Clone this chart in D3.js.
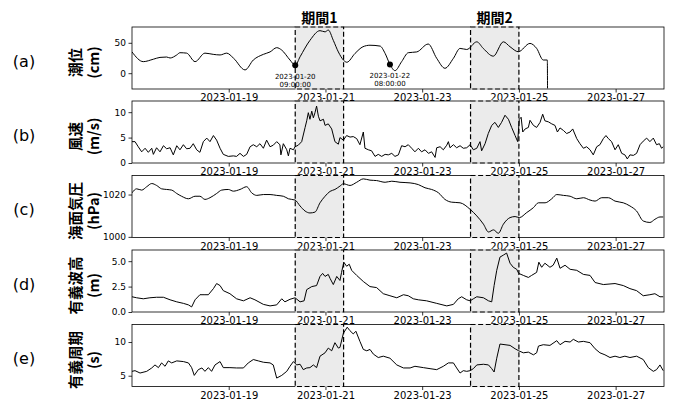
<!DOCTYPE html>
<html>
<head>
<meta charset="utf-8">
<script src="https://cdn.jsdelivr.net/npm/d3@7"></script>
<style>
  body { margin: 0; background: #fff; }
  svg { display: block; }
</style>
</head>
<body>
<svg id="chart" width="673" height="401"></svg>
<script>
// ---- data (hours since 2023-01-17 00:00) ----
const tideHours = [0,5.6,10.6,13.9,17.2,18.9,22.2,23.8,27.1,31.3,36.2,40.3,43.7,47,50.3,56.1,60.2,65.2,68.5,71.8,74.3,78.4,81,83.4,88.3,93.3,95.8,97.4,99.9,102.4,104.9,106.6,110.7,114.6,118.1,123.1,125.6,128,130.5,133.8,137.1,141.3,147,151.2,155.3,159.5,162.8,166.1,171.1,174.3,179.3,184.3,187.6,191.7,197.5,200.8,204.1,206.1,206.2];
const tideValues = [35,19,23,26,26.6,25,30,33.7,33,19,33,31,30,33,25,5.4,21.7,31,35,42,38,21.7,13,27,54,70,68,71,54,35,21.7,18,32.6,43.5,46,44.6,32.6,14.5,4.2,19,33.7,35,48,24.5,8.1,24.5,40.8,39,51.6,40.8,28,51.6,43.5,35.3,49,40.8,21.7,21.7,-25];

const windHours = [0,1.5,3.1,4.8,6.5,8.1,9.8,10.6,12.2,13.9,15.6,17.2,18.9,20.5,22.2,23.8,25.5,27.1,28.8,30.4,32.1,33.7,35.4,37.1,38.7,40.4,42,43.7,45.3,47.8,50.3,51.9,53.6,55.3,56.9,58.6,60.2,61.9,63.5,65.2,66.8,68.5,70.1,71.8,73.4,73.9,75.1,76.8,77.6,78.4,80.1,80.9,82.5,84.2,85.9,86.7,87.5,88.3,89.2,90,90.8,91.6,92.5,93.3,95,95.8,97.4,99.1,100.7,102.4,103.2,104.9,106.5,108.2,109.8,111.5,113.1,114.8,115.6,117.3,118.9,120.6,122.2,123.9,125.6,127.2,128.9,130.5,132.2,133.8,135.5,137.1,138.8,140.4,142.1,143.7,145.4,147.1,148.7,150.4,151.2,152.9,154.5,156.2,157,157.8,159.5,161.1,162.8,164.4,166.1,167.8,169.4,171.1,172.7,173.5,175.2,176.8,178.5,180.1,181.8,183.4,185.1,186.8,188.4,190.1,191.4,192.2,193.1,193.9,195.1,196.7,197.5,199.2,200.8,202.5,203.8,204.9,206.6,208.3,209.9,211.1,212.4,214.1,215.7,217.4,218.7,220.7,222.3,224,225.6,227.3,228.9,230.6,232.2,233.9,235.2,236.4,238,239.7,241.3,243,244.6,245.8,247.1,248.8,250.4,252.1,253.7,255.4,257,258.7,260.3,261.7,262.8,263.6];
const windValues = [4.2,4.2,3.2,2.2,2.9,2.1,2.9,1.7,3.0,2.2,3.4,2.8,3.0,1.6,3.4,2.6,3.6,2.8,2.9,3.8,2.6,2.1,4.2,4.9,4.2,5.4,4.5,2.9,1.7,1.3,1.4,1.3,1.9,1.3,1.7,3.2,3.6,3.2,3.8,2.9,4.5,3.2,3.5,4.2,3.6,1.6,3.8,2.6,1.4,2.9,2.6,3.2,3.5,4.2,7.0,8.3,9.9,8.6,10.2,8.9,9.9,11.2,9.2,8.3,8.6,7.4,7.7,6.7,4.2,3.7,5.0,4.5,5.4,5.1,5.2,4.8,3.6,6.1,2.9,2.6,2.4,1.3,1.7,1.3,1.7,1.6,1.9,1.3,1.6,3.4,3.2,3.6,2.9,2.2,2.9,2.2,2.6,1.9,2.2,1.1,3.0,3.2,2.6,3.5,4.2,3.0,3.6,3.0,3.4,2.9,3.0,3.6,2.6,2.9,4.2,2.4,3.8,5.8,7.4,8.0,7.0,8.0,9.4,8.6,7.0,5.4,4.2,8.6,9.0,6.1,6.7,7.0,8.4,7.4,7.0,8.0,9.6,8.3,8.1,7.7,7.4,6.1,6.9,6.4,5.8,6.1,6.7,4.8,3.8,2.9,3.2,2.6,1.6,3.2,3.6,4.8,5.4,4.8,4.2,2.6,3.6,1.9,1.6,0.8,1.6,1.5,1.9,3.6,4.3,4.9,4.2,4.9,3.6,3.8,2.9,3.2];

const pressureHours = [0,2.3,4.8,7.3,9.8,12.2,14.7,17.2,19.7,22.2,24.6,28,31.3,33.7,36.2,38.7,42,44.5,47.8,50.3,53.6,56.9,59.4,61.9,65.2,68.5,71.8,75.1,77.6,80.9,83.4,85.9,88.3,90.8,93.3,95.8,98.3,100.7,103.2,104.9,108.2,111.5,114.8,118.1,121.4,125.6,128.9,133,138,142.1,145.4,148.7,152.1,155.3,158.6,162.8,167.8,171.1,174.4,176.9,179.4,181.8,184.3,187.6,190.1,192.2,195.9,199.2,201.7,205,208.3,210.8,214.1,217.4,220.7,224,227.3,229.8,233.1,236.4,239.7,243.8,247.1,250.4,253.7,257,259.5,262,263.6];
const pressureValues = [1020.8,1022.7,1022.1,1023.7,1025.2,1024.3,1022.7,1022.4,1022.1,1020.5,1019.2,1018,1019.2,1019.2,1017.7,1018.5,1020.5,1022.1,1022.4,1021.6,1022.4,1023.7,1020.8,1019.6,1020,1020,1019.6,1019.2,1018,1017.4,1014.6,1012.2,1011.3,1011.7,1016.1,1019.2,1021.5,1022.4,1024,1025.1,1024.3,1025.8,1027.4,1026.8,1026.6,1025.8,1026.3,1025.8,1025.5,1024.7,1023.2,1022.4,1020.8,1017.7,1016.4,1016.1,1013,1009.9,1006,1002.3,1003.3,1001.7,1006,1009.1,1009.6,1009.1,1011.5,1013.8,1016.1,1016.1,1018,1020,1019.6,1019.2,1018,1018.5,1017.4,1016.9,1018.5,1018.5,1016.9,1016.1,1014.6,1012.2,1007.5,1006.8,1008.3,1009.4,1009.4];

const waveHeightHours = [0,2.3,5.6,8.9,12.2,15.6,18.9,22.2,25.5,28,29.6,31.3,33.7,36.2,37.9,40.4,42,43.7,45.3,48.6,51.9,55.3,58.6,61,65.2,68.5,71.8,74.3,75.9,78.4,80.9,83.4,85.4,86.7,89.2,91.6,93.3,94.6,95.8,97.4,98.3,99.9,101.6,103.2,104,105.1,106.5,107.8,109,111.5,114.8,118.1,121.4,124.7,128,131.4,134.7,137.1,139.6,142.1,146.2,151.2,156.2,159.5,161.9,163.6,166.1,167.8,169.4,171.1,174.4,176.9,178.5,179.7,181,182.6,184.3,185.9,187.6,189.2,190.9,191.9,194.2,196.7,198.3,200.8,201.9,203.3,204.9,207.4,209,210.8,212.4,214.9,217.4,220.7,224,227.3,229.8,233.9,239.7,243.8,247.1,250.4,253.7,257,259.5,262,263.6];
const waveHeightValues = [1.5,1.4,1.3,1.4,1.45,1.45,1.2,1.0,0.85,0.7,0.5,1.2,1.7,1.7,1.7,2.3,2.8,2.6,2.1,1.8,1.3,1.1,1.4,1.2,0.75,0.6,0.7,1.3,1.0,1.25,1.4,1.0,1.1,2.2,2.5,2.6,3.5,3.8,3.5,3.7,3.3,2.7,3.5,3.1,3.9,4.9,4.5,4.7,4.1,3.6,3.0,2.5,2.4,1.8,1.6,1.4,1.7,1.6,1.3,1.2,1.1,0.85,0.6,0.75,1.3,1.5,1.2,1.1,1.3,1.5,1.4,1.1,1.0,2.6,4.1,5.4,5.6,5.8,4.8,4.4,4.2,3.8,3.6,3.4,3.6,3.9,4.9,4.4,4.8,4.4,4.6,5.3,4.3,4.6,4.2,4.1,3.7,3.6,2.9,2.7,2.8,2.6,2.3,2.1,1.6,1.7,1.8,1.5,1.5];

const wavePeriodHours = [0,1.5,4,7.3,9.8,11.4,13.1,14.7,16.4,18,19.7,22.2,25.5,28,29.6,30.9,32.9,34.7,36.2,37.9,39.5,41.2,43.7,45.3,48.6,51.9,55.3,57.7,60.2,62.7,65.2,68.5,70.1,71.8,74.3,76.8,78.4,80.1,81.7,83.4,85,86.7,88.3,90,91.6,93.3,95.8,97.4,99.1,100.7,102.4,103.2,104.9,106.8,108.1,109.8,111.1,113.1,114.8,116.5,118.1,119.8,122.2,124.7,128,131.4,134.7,138,140.4,144.6,147.9,151.2,154.5,157,159.5,161.1,162.8,164.4,166.1,167.8,169.4,171.1,174.4,176.9,178.5,179.7,181,182.6,185.1,187.6,190.1,191.9,194.2,196.7,199.2,200.8,201.7,204.1,207.4,210.8,212.4,214.9,217.4,219,221.5,224,227.3,229.8,232.2,234.7,237.2,239.7,242.1,244.6,247.1,250.4,253.7,256.2,258.7,260.3,262,263.6];
const wavePeriodValues = [5.65,5.75,5.4,5.65,6.15,6.6,6.2,6.9,6.4,7.2,6.9,7.2,7.1,6.9,6.2,5.05,5.9,6.15,5.65,6.2,5.65,6.6,7.1,6.2,6.2,6.15,6.15,6.9,7.4,7.2,7.0,6.9,6.6,4.65,5.05,5.65,6.4,7.1,6.6,6.7,5.9,6.15,6.2,6.6,6.2,7.9,8.4,9.1,8.7,9.9,9.1,9.2,11.3,12.2,11.7,11.2,11.6,10.1,8.9,8.7,8.9,8.2,7.7,7.9,7.6,6.6,6.15,6.15,6.4,6.2,6.05,5.9,6.4,6.9,6.9,6.15,5.4,5.75,5.65,5.75,6.05,6.6,6.7,6.6,6.05,5.55,7.6,9.7,9.6,9.5,9.0,8.7,8.4,8.5,8.1,8.4,9.4,9.6,9.5,10.2,9.6,10.1,10.0,10.4,10.0,10.1,9.9,9.0,8.4,8.1,7.7,7.9,7.7,7.9,7.7,7.9,7.4,6.2,5.65,5.9,6.6,5.75];

const xTickLabels = ["2023-01-19", "2023-01-21", "2023-01-23", "2023-01-25", "2023-01-27"];
const periodLabels = ["期間1", "期間2"];
const periodStarts = ["2023-01-20 09:00", "2023-01-24 00:00"];
const periodEnds = ["2023-01-21 09:00", "2023-01-25 00:00"];
const markerTimes = ["2023-01-20 09:00:00", "2023-01-22 08:00:00"];

const panelTags = ["(a)", "(b)", "(c)", "(d)", "(e)"];
const panelTitles = [["潮位", "(cm)"], ["風速", "(m/s)"], ["海面気圧", "(hPa)"], ["有義波高", "(m)"], ["有義周期", "(s)"]];
const yTicks = [[0, 50], [0, 5, 10], [1000, 1020], [0, 2.5, 5], [5, 10]];

// ---- layout ----
const svg = d3.select("#chart");
const left = 132, right = 664;
const tops = [27, 101, 175.5, 250, 324.5];
const ph = 62;
const shade = "#ebebeb";
const tickFont = "'DejaVu Sans', sans-serif";
const cjkFont = "'Noto Sans CJK JP', 'Noto Sans', sans-serif";

const t0 = Date.UTC(2023, 0, 17);
const fromHours = h => new Date(t0 + h * 3600000);
const parseMin = d3.utcParse("%Y-%m-%d %H:%M");
const parseSec = d3.utcParse("%Y-%m-%d %H:%M:%S");
const parseDay = d3.utcParse("%Y-%m-%d");

const x = d3.scaleUtc().domain([fromHours(0), fromHours(264)]).range([left, right]);

const panels = [
  { hours: tideHours, values: tideValues, domain: [-26, 76], fmt: d3.format("d"), curve: d3.curveMonotoneX },
  { hours: windHours, values: windValues, domain: [0, 12.2], fmt: d3.format("d"), curve: d3.curveLinear },
  { hours: pressureHours, values: pressureValues, domain: [999.7, 1029], fmt: d3.format("d"), curve: d3.curveMonotoneX },
  { hours: waveHeightHours, values: waveHeightValues, domain: [0, 6.1], fmt: d3.format(".1f"), curve: d3.curveLinear },
  { hours: wavePeriodHours, values: wavePeriodValues, domain: [3.4, 12.6], fmt: d3.format("d"), curve: d3.curveLinear }
];

const xTicks = xTickLabels.map(parseDay);

panels.forEach((p, i) => {
  const top = tops[i], bottom = top + ph;
  const y = d3.scaleLinear().domain(p.domain).range([bottom, top]);
  const g = svg.append("g");

  // shaded periods
  periodStarts.forEach((s, k) => {
    const x0 = x(parseMin(s)), x1 = x(parseMin(periodEnds[k]));
    g.append("rect").attr("x", x0).attr("y", top).attr("width", x1 - x0).attr("height", ph)
      .attr("fill", shade);
  });

  // axes frame
  g.append("rect").attr("x", left).attr("y", top).attr("width", right - left).attr("height", ph)
    .attr("fill", "none").attr("stroke", "#000").attr("stroke-width", 0.8);

  // dashed outline of each period
  periodStarts.forEach((s, k) => {
    const x0 = x(parseMin(s)), x1 = x(parseMin(periodEnds[k]));
    [top, bottom].forEach(yy => {
      g.append("line").attr("x1", x0).attr("x2", x1).attr("y1", yy).attr("y2", yy)
        .attr("stroke", shade).attr("stroke-width", 1.4);
    });
    g.append("rect").attr("x", x0).attr("y", top).attr("width", x1 - x0).attr("height", ph)
      .attr("fill", "none").attr("stroke", "#000").attr("stroke-width", 1.2)
      .attr("stroke-dasharray", "5,2.6");
  });

  // series line
  const clipId = "clip" + i;
  svg.append("clipPath").attr("id", clipId).append("rect")
    .attr("x", left).attr("y", top - 1).attr("width", right - left).attr("height", ph + 2);
  const pts = p.hours.map((h, j) => [fromHours(h), p.values[j]]);
  g.append("path").datum(pts)
    .attr("clip-path", `url(#${clipId})`)
    .attr("fill", "none").attr("stroke", "#000").attr("stroke-width", 1)
    .attr("stroke-linejoin", "round")
    .attr("d", d3.line().x(d => x(d[0])).y(d => y(d[1])).curve(p.curve));

  // x axis
  const ax = g.append("g").attr("transform", `translate(0,${bottom})`)
    .call(d3.axisBottom(x).tickValues(xTicks).tickFormat(d3.utcFormat("%Y-%m-%d"))
      .tickSizeOuter(0).tickSize(3.5).tickPadding(1.5));
  ax.select(".domain").remove();
  ax.selectAll("line").attr("stroke", "#000").attr("stroke-width", 0.8);
  ax.selectAll("text").attr("font-family", tickFont).attr("font-size", 10).attr("fill", "#000");

  // y axis
  const ay = g.append("g").attr("transform", `translate(${left},0)`)
    .call(d3.axisLeft(y).tickValues(yTicks[i]).tickFormat(p.fmt).tickSize(3.5).tickPadding(2.5));
  ay.select(".domain").remove();
  ay.selectAll("line").attr("stroke", "#000").attr("stroke-width", 0.8);
  ay.selectAll("text").attr("font-family", tickFont).attr("font-size", 9).attr("fill", "#000");

  // panel tag and y label
  svg.append("text").attr("x", 24).attr("y", top + 34)
    .attr("text-anchor", "middle").attr("dominant-baseline", "central")
    .attr("font-family", tickFont).attr("font-size", 16).attr("fill", "#000")
    .text(panelTags[i]);
  const cy = top + 35.5;
  [74.5, 92].forEach((lx, k) => {
    svg.append("text").attr("transform", `translate(${lx},${cy}) rotate(-90)`)
      .attr("text-anchor", "middle").attr("dominant-baseline", "central")
      .attr("font-family", cjkFont).attr("font-weight", 700).attr("font-size", 14.5).attr("fill", "#000")
      .text(panelTitles[i][k]);
  });

  // marked tide times
  if (i === 0) {
    markerTimes.forEach(mt => {
      const d = parseSec(mt);
      const h = (d - t0) / 3600000;
      const v = d3.scaleLinear().domain(p.hours).range(p.values)(h);
      const cx = x(d), cyDot = y(v);
      g.append("circle").attr("cx", cx).attr("cy", cyDot).attr("r", 3).attr("fill", "#000");
      const parts = mt.split(" ");
      parts.forEach((s, k) => {
        g.append("text").attr("x", cx).attr("y", cyDot + 11.5 + k * 8)
          .attr("text-anchor", "middle").attr("dominant-baseline", "central")
          .attr("font-family", tickFont).attr("font-size", 7).attr("fill", "#000")
          .text(s);
      });
    });
  }
});

// period titles
periodLabels.forEach((lab, k) => {
  const xm = (x(parseMin(periodStarts[k])) + x(parseMin(periodEnds[k]))) / 2;
  svg.append("text").attr("x", xm).attr("y", 16.5)
    .attr("text-anchor", "middle").attr("dominant-baseline", "central")
    .attr("font-family", cjkFont).attr("font-weight", 700).attr("font-size", 14).attr("fill", "#000")
    .text(lab);
});
</script>
</body>
</html>
